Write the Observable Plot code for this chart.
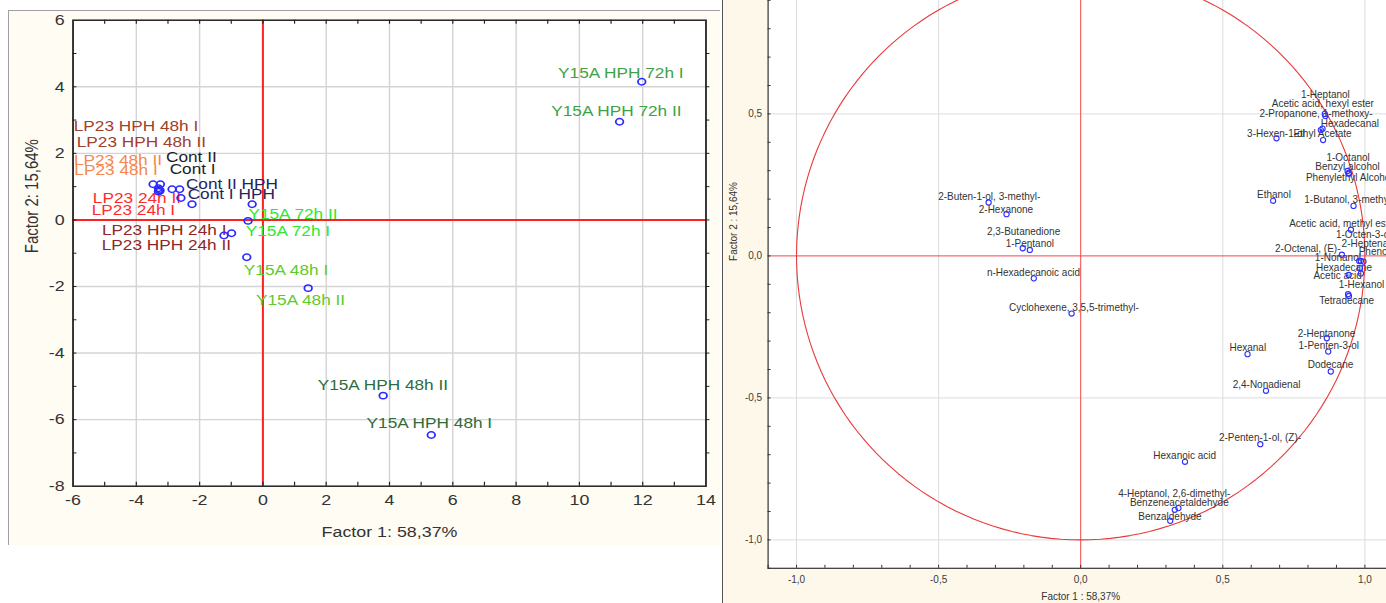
<!DOCTYPE html>
<html><head><meta charset="utf-8">
<script src="https://cdn.jsdelivr.net/npm/d3@7"></script>
<script src="https://cdn.jsdelivr.net/npm/@observablehq/plot@0.6"></script>
<style>
html,body{margin:0;padding:0;width:1386px;height:603px;overflow:hidden;background:#fff;font-family:"Liberation Sans",Arial,sans-serif;}
#leftPanel{position:absolute;left:8px;top:10px;width:712px;height:535px;background:#fffcf3;border-top:1px solid #a0a0a0;border-left:1px solid #a0a0a0;box-sizing:border-box;overflow:hidden;}
#leftChart{position:absolute;left:0;top:0;width:598px;transform-origin:0 0;transform:scaleX(1.19);}
#rightPanel{position:absolute;left:722px;top:0;width:664px;height:603px;background:#fdf8ea;border-left:1px solid #555;box-sizing:border-box;overflow:hidden;}
#rightChart{position:absolute;left:0;top:-57.4px;width:680px;}
svg{max-width:none !important;}
</style>
</head><body>
<div id="leftPanel"><div id="leftChart"></div></div>
<div id="rightPanel"><div id="rightChart"></div></div>
<script>
// ---------- Left panel: sample scores ----------
const sampleNames = ["LP23 HPH 48h I","LP23 HPH 48h II","LP23 48h II","LP23 48h I","LP23 24h II","LP23 24h I","Cont II","Cont I","Cont II HPH","Cont I HPH","Y15A 72h II","Y15A 72h I","LP23 HPH 24h I","LP23 HPH 24h II","Y15A 48h I","Y15A 48h II","Y15A HPH 48h II","Y15A HPH 48h I","Y15A HPH 72h II","Y15A HPH 72h I"];
const sampleGroup = ["LP23 HPH 48h","LP23 HPH 48h","LP23 48h","LP23 48h","LP23 24h","LP23 24h","Cont","Cont","Cont HPH","Cont HPH","Y15A 72h","Y15A 72h","LP23 HPH 24h","LP23 HPH 24h","Y15A 48h","Y15A 48h","Y15A HPH 48h","Y15A HPH 48h","Y15A HPH 72h","Y15A HPH 72h"];
const sampleF1 = [-3.47,-3.24,-3.30,-3.28,-3.25,-3.30,-2.87,-2.63,-2.59,-2.24,-0.34,-0.47,-1.23,-0.99,-0.51,1.43,3.80,5.32,11.27,11.97];
const sampleF2 = [1.07,1.07,0.95,0.90,0.88,0.85,0.92,0.92,0.66,0.47,0.47,-0.03,-0.47,-0.40,-1.12,-2.05,-5.28,-6.46,2.95,4.15];
const sampleLabelF1 = [-4.01,-3.84,-4.58,-4.64,-3.98,-4.09,-2.26,-2.22,-0.98,-1.00,0.95,0.79,-3.12,-3.05,0.73,1.19,3.79,5.26,11.17,11.31];
const sampleLabelF2 = [2.81,2.32,1.78,1.48,0.66,0.30,1.88,1.53,1.08,0.78,0.18,-0.35,-0.32,-0.77,-1.52,-2.42,-4.97,-6.12,3.26,4.39];
const groupOrder = ["LP23 HPH 48h","LP23 48h","Cont","Cont HPH","LP23 24h","LP23 HPH 24h","Y15A 72h","Y15A 48h","Y15A HPH 72h","Y15A HPH 48h"];
const groupColors = ["#a0402c","#f5874f","#1e1e28","#24245e","#ff2b2b","#8e2626","#2ee82e","#5ecb2a","#3fa145","#2f6b3d"];
const xTicksL = [-6,-4,-2,0,2,4,6,8,10,12,14];
const yTicksL = [-8,-6,-4,-2,0,2,4,6];
const xGridL = [-4,-2,2,4,6,8,10,12];
const yGridL = [-6,-4,-2,2,4];
const xMinorL = d3.range(-5, 14, 1);
const yMinorL = d3.range(-7, 6, 1);

const samples = sampleNames.map((n, i) => ({name: n, group: sampleGroup[i], f1: sampleF1[i], f2: sampleF2[i], lf1: sampleLabelF1[i], lf2: sampleLabelF2[i]}));

const pxY = 33.29;
const left = Plot.plot({
  width: 598, height: 534,
  marginLeft: 53.3, marginRight: 12.8, marginTop: 8.7, marginBottom: 59.3,
  x: {domain: [-6, 14], axis: null},
  y: {domain: [-8, 6], axis: null},
  color: {domain: groupOrder, range: groupColors},
  style: {background: "transparent", fontFamily: "Liberation Sans, Arial, sans-serif", overflow: "visible"},
  marks: [
    Plot.frame({fill: "#ffffff"}),
    Plot.ruleX(xGridL, {stroke: "#d4d4d4", strokeWidth: 1.2}),
    Plot.ruleY(yGridL, {stroke: "#d4d4d4", strokeWidth: 1.4}),
    Plot.ruleX([0], {stroke: "#ff2020", strokeWidth: 1.7}),
    Plot.ruleY([0], {stroke: "#ff2020", strokeWidth: 2}),
    Plot.ruleX(xMinorL, {x: d => d, y1: -8, y2: -8 + 4 / pxY, stroke: "#222", strokeWidth: 1}),
    Plot.ruleX(xMinorL, {x: d => d, y1: 6, y2: 6 - 4 / pxY, stroke: "#222", strokeWidth: 1}),
    Plot.ruleY(yMinorL, {y: d => d, x1: -6, x2: -6 + 4 / 31.65, stroke: "#222", strokeWidth: 1}),
    Plot.ruleY(yMinorL, {y: d => d, x1: 14, x2: 14 + 4 / 31.65, stroke: "#222", strokeWidth: 1}),
    Plot.text(samples, {x: "lf1", y: "lf2", text: "name", fill: "group", fontSize: 14.5, lineAnchor: "middle", textAnchor: "middle"}),
    Plot.dot(samples, {x: "f1", y: "f2", r: 3.2, stroke: "#2a2aff", strokeWidth: 1.5, fill: "none"}),
    Plot.frame({stroke: "#222", strokeWidth: 1.5}),
    Plot.text(xTicksL, {x: d => d, frameAnchor: "bottom", dy: 14, text: d => String(d), fontSize: 15, fill: "#333", lineAnchor: "middle"}),
    Plot.text(yTicksL, {y: d => d, frameAnchor: "left", dx: -7, text: d => String(d), fontSize: 15, fill: "#333", textAnchor: "end", lineAnchor: "middle"}),
    Plot.text(["Factor 1: 58,37%"], {frameAnchor: "bottom", dy: 45.5, text: d => d, fontSize: 15, fill: "#333", lineAnchor: "middle"}),
    Plot.text(["Factor 2: 15,64%"], {frameAnchor: "left", dx: -34.5, rotate: -90, text: d => d, fontSize: 15, fill: "#333", lineAnchor: "middle"})
  ]
});
document.getElementById("leftChart").appendChild(left);

// ---------- Right panel: variable loadings ----------
const varNames = ["1-Heptanol","Acetic acid, hexyl ester","2-Propanone, 1-methoxy-","Hexadecanal","3-Hexen-1-ol","Ethyl Acetate","1-Octanol","Benzyl alcohol","Phenylethyl Alcohol","Ethanol","1-Butanol, 3-methyl-","2-Buten-1-ol, 3-methyl-","2-Hexanone","2,3-Butanedione","1-Pentanol","n-Hexadecanoic acid","Cyclohexene, 3,5,5-trimethyl-","Acetic acid, methyl ester","1-Octen-3-ol","2-Heptenal","2-Octenal, (E)-","Phenol","1-Nonanol","Hexadecane","Acetic acid","1-Hexanol","Tetradecane","2-Heptanone","1-Penten-3-ol","Hexanal","Dodecane","2,4-Nonadienal","2-Penten-1-ol, (Z)-","Hexanoic acid","4-Heptanol, 2,6-dimethyl-","Benzeneacetaldehyde","Benzaldehyde"];
const varF1 = [0.859,0.861,0.851,0.845,0.689,0.853,0.939,0.943,0.944,0.677,0.960,-0.324,-0.261,-0.204,-0.179,-0.165,-0.032,0.951,0.995,0.986,0.919,0.980,0.983,0.986,0.943,0.941,0.944,0.866,0.871,0.587,0.880,0.652,0.632,0.367,0.331,0.344,0.315];
const varF2 = [0.500,0.493,0.448,0.443,0.414,0.408,0.299,0.292,0.289,0.194,0.176,0.188,0.147,0.027,0.021,-0.079,-0.203,0.092,-0.020,-0.018,0.004,-0.018,-0.043,-0.062,-0.067,-0.135,-0.141,-0.290,-0.337,-0.346,-0.407,-0.475,-0.663,-0.725,-0.894,-0.888,-0.933];
const varLabelF1 = [0.861,0.852,0.828,0.947,0.687,0.851,0.941,0.939,0.945,0.680,0.945,-0.322,-0.263,-0.201,-0.179,-0.166,-0.024,0.924,0.996,1.004,0.799,1.033,0.905,0.927,0.904,0.988,0.936,0.865,0.873,0.588,0.879,0.654,0.631,0.366,0.329,0.347,0.314];
const varLabelF2 = [0.567,0.536,0.499,0.466,0.431,0.429,0.346,0.312,0.275,0.214,0.197,0.208,0.164,0.086,0.041,-0.059,-0.184,0.112,0.074,0.041,0.024,0.015,-0.008,-0.043,-0.070,-0.102,-0.158,-0.274,-0.317,-0.323,-0.385,-0.455,-0.642,-0.704,-0.837,-0.869,-0.918];
const ticksR = [-1, -0.5, 0, 0.5, 1];
const gridR = [-1, -0.5, 0.5, 1];
const minorR = d3.range(-11, 12).map(k => k / 10);
const circleDeg = d3.range(0, 361, 2);

const vars = varNames.map((n, i) => ({name: n, f1: varF1[i], f2: varF2[i], lf1: varLabelF1[i], lf2: varLabelF2[i]}));
const fmtR = d => (d < 0 ? "-" : "") + Math.abs(d).toFixed(1).replace(".", ",");
const tl = 3 / 284.2;

const right = Plot.plot({
  width: 680, height: 660.8,
  marginLeft: 44.6, marginRight: 10.2, marginTop: 0, marginBottom: 36,
  x: {domain: [-1.1, 1.1], axis: null},
  y: {domain: [-1.1, 1.1], axis: null},
  style: {background: "transparent", fontFamily: "Liberation Sans, Arial, sans-serif", overflow: "visible"},
  marks: [
    Plot.frame({fill: "#ffffff"}),
    Plot.ruleX(gridR, {stroke: "#dcdcdc"}),
    Plot.ruleY(gridR, {stroke: "#dcdcdc"}),
    Plot.ruleX([0], {stroke: "#f04848", strokeWidth: 1}),
    Plot.ruleY([0], {stroke: "#f04848", strokeWidth: 1}),
    Plot.line(circleDeg, {x: a => Math.cos(a * Math.PI / 180), y: a => Math.sin(a * Math.PI / 180), stroke: "#e83a3a", strokeWidth: 1.1, curve: "linear"}),
    Plot.ruleX(minorR, {x: d => d, y1: -1.1, y2: -1.1 + tl, stroke: "#333"}),
    Plot.ruleY(minorR, {y: d => d, x1: -1.1, x2: -1.1 + tl, stroke: "#333"}),
    Plot.text(vars, {x: "lf1", y: "lf2", text: "name", fill: "#333", fontSize: 10, lineAnchor: "middle"}),
    Plot.dot(vars, {x: "f1", y: "f2", r: 2.6, stroke: "#2f2fff", strokeWidth: 1.1, fill: "none"}),
    Plot.frame({stroke: "#333", strokeWidth: 1.2}),
    Plot.text(ticksR, {x: d => d, frameAnchor: "bottom", dy: 11.6, text: fmtR, fontSize: 10, fill: "#3a3a3a", lineAnchor: "middle"}),
    Plot.text(ticksR, {y: d => d, frameAnchor: "left", dx: -6, text: fmtR, fontSize: 10, fill: "#3a3a3a", textAnchor: "end", lineAnchor: "middle"}),
    Plot.text(["Factor 1 : 58,37%"], {frameAnchor: "bottom", dy: 28.6, text: d => d, fontSize: 10, fill: "#333", lineAnchor: "middle"}),
    Plot.text(["Factor 2 : 15,64%"], {frameAnchor: "left", dx: -34.6, dy: 5, rotate: -90, text: d => d, fontSize: 10, fill: "#333", lineAnchor: "middle"})
  ]
});
document.getElementById("rightChart").appendChild(right);
</script>
</body></html>
